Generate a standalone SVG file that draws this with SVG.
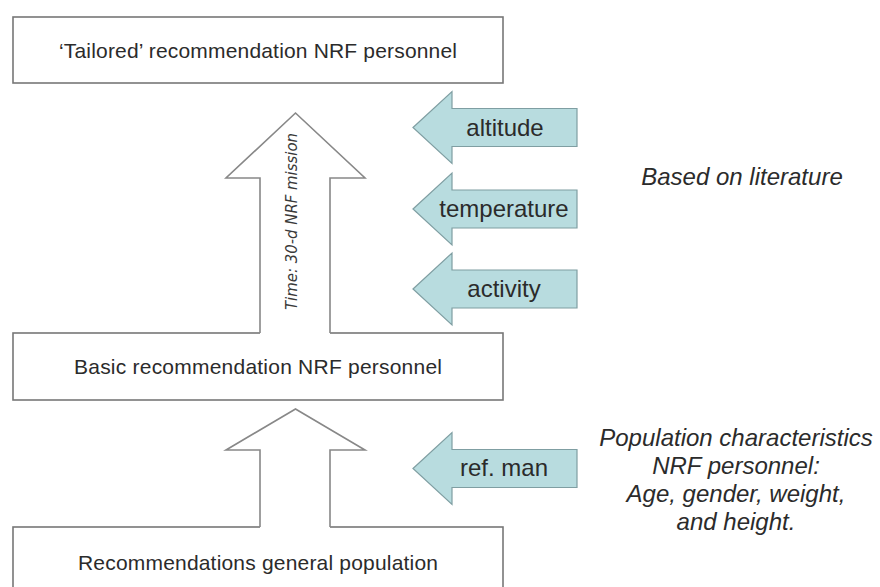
<svg xmlns="http://www.w3.org/2000/svg" width="880" height="587" viewBox="0 0 880 587">
<style>
.box{fill:#fff;stroke:#777;stroke-width:1.6}
.bt{font-family:"Liberation Sans",Arial,sans-serif;font-size:21px;fill:#2b2b2b;text-anchor:middle}
.up{fill:none;stroke:#888;stroke-width:1.6;stroke-linejoin:miter}
.upfill{fill:#fff;stroke:none}
.side{fill:#b8dcdf;stroke:#7f9ea2;stroke-width:1.2}
.lt{font-family:"Liberation Sans",Arial,sans-serif;font-size:24px;fill:#2b2b2b;text-anchor:middle}
.it{font-family:"Liberation Sans",Arial,sans-serif;font-size:24px;font-style:italic;fill:#2b2b2b;text-anchor:middle}
.tm{font-family:"DejaVu Sans",Verdana,sans-serif;font-size:15px;font-style:italic;fill:#3a3a3a;text-anchor:middle}
</style>
<rect width="880" height="587" fill="#fff"/>
<g id="tailored">
<rect class="box" x="13" y="17" width="490" height="66"/>
<text class="bt" x="258" y="58" textLength="398" lengthAdjust="spacing">‘Tailored’ recommendation NRF personnel</text>
</g>
<g id="basic">
<rect class="box" x="13" y="333" width="490" height="67"/>
<text class="bt" x="258" y="374" textLength="368" lengthAdjust="spacing">Basic recommendation NRF personnel</text>
</g>
<g id="general">
<rect class="box" x="13" y="527" width="490" height="80"/>
<text class="bt" x="258" y="570" textLength="360" lengthAdjust="spacing">Recommendations general population</text>
</g>
<g id="connectors">
<g id="time-arrow">
<path class="upfill" d="M260,335 L260,178 L226,178 L295.5,113 L365,178 L330,178 L330,335 Z"/>
<polyline class="up" points="260,333 260,178 226,178 295.5,113 365,178 330,178 330,333"/>
<text class="tm" transform="translate(297,221.5) rotate(-90)" textLength="177" lengthAdjust="spacingAndGlyphs">Time: 30-d NRF mission</text>
</g>
<g id="base-arrow">
<path class="upfill" d="M260,529 L260,450 L226,450 L295.5,409 L365,450 L330,450 L330,529 Z"/>
<polyline class="up" points="260,527 260,450 226,450 295.5,409 365,450 330,450 330,527"/>
</g>
</g>
<g id="altitude">
<polygon class="side" points="413,127.5 452,91.5 452,108.5 577,108.5 577,146.5 452,146.5 452,163.5"/>
<text class="lt" x="505" y="136">altitude</text>
</g>
<g id="temperature">
<polygon class="side" points="413,209 452,173 452,190 577,190 577,228 452,228 452,245"/>
<text class="lt" x="504" y="217">temperature</text>
</g>
<g id="activity">
<polygon class="side" points="413,289 452,253 452,270 577,270 577,308 452,308 452,325"/>
<text class="lt" x="504" y="297">activity</text>
</g>
<g id="refman">
<polygon class="side" points="413,468.5 452,432.5 452,449.5 577,449.5 577,487.5 452,487.5 452,504.5"/>
<text class="lt" x="504" y="476">ref. man</text>
</g>
<g id="literature">
<text class="it" x="742" y="185">Based on literature</text>
</g>
<g id="population">
<text class="it" x="736" y="446">Population characteristics</text>
<text class="it" x="736" y="474">NRF personnel:</text>
<text class="it" x="736" y="502">Age, gender, weight,</text>
<text class="it" x="736" y="530">and height.</text>
</g>
</svg>
